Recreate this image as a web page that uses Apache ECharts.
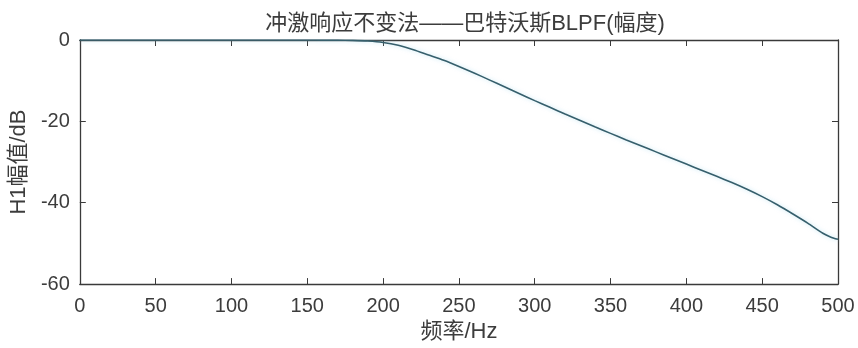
<!DOCTYPE html>
<html>
<head>
<meta charset="utf-8">
<script src="https://cdn.jsdelivr.net/npm/echarts@6/dist/echarts.min.js"></script>
<style>html,body{margin:0;padding:0;background:#fff;}#c{width:858px;height:348px;}</style>
</head>
<body>
<div id="c"></div>
<script>
const freqHz = [0, 50, 100, 150, 160, 170, 180, 190, 200, 210, 220, 230, 240, 250, 260, 270, 280, 290, 300, 310, 320, 330, 340, 350, 360, 370, 380, 390, 400, 410, 420, 430, 440, 450, 460, 470, 480, 490, 495, 500];
const magDb = [0, 0, 0, -0.01, -0.02, -0.04, -0.1, -0.25, -0.6, -1.3, -2.4, -3.7, -5.0, -6.5, -8.1, -9.8, -11.5, -13.2, -14.9, -16.55, -18.2, -19.8, -21.4, -22.95, -24.5, -26.0, -27.5, -29.0, -30.5, -32.0, -33.5, -35.05, -36.7, -38.5, -40.5, -42.7, -45.0, -47.5, -48.4, -49.0];
const xTicks = [0, 50, 100, 150, 200, 250, 300, 350, 400, 450, 500];
const yTicks = [0, -20, -40, -60];
const titleText = '冲激响应不变法——巴特沃斯BLPF(幅度)';
const xName = '频率/Hz';
const yName = 'H1幅值/dB';

const font = '"Liberation Sans", "Noto Sans CJK SC", sans-serif';
const axisColor = '#3a3a3a';
const textColor = '#3c3c3c';
const pts = freqHz.map((f, i) => [f, magDb[i]]);

const chart = echarts.init(document.getElementById('c'), null, {renderer: 'canvas'});
const baseX = {
  type: 'value', min: xTicks[0], max: xTicks[xTicks.length - 1], interval: 50,
  axisLine: {show: true, onZero: false, lineStyle: {color: axisColor, width: 1.3}},
  axisTick: {show: true, inside: true, length: 6, lineStyle: {color: axisColor}},
  splitLine: {show: false}
};
const baseY = {
  type: 'value', min: yTicks[yTicks.length - 1], max: yTicks[0], interval: 20,
  axisLine: {show: true, onZero: false, lineStyle: {color: axisColor, width: 1.3}},
  axisTick: {show: true, inside: true, length: 6, lineStyle: {color: axisColor}},
  splitLine: {show: false}
};
chart.setOption({
  animation: false,
  backgroundColor: '#ffffff',
  title: {
    text: titleText, left: 460, top: 8, textAlign: 'center',
    textStyle: {fontFamily: font, fontSize: 22, fontWeight: 'normal', color: textColor}
  },
  grid: {left: 78, right: 20, top: 40, bottom: 62, containLabel: false},
  xAxis: [
    Object.assign({}, baseX, {
      position: 'bottom', name: xName, nameLocation: 'middle', nameGap: 35,
      nameTextStyle: {fontFamily: font, fontSize: 22, color: textColor},
      axisLabel: {show: true, margin: 12, fontFamily: font, fontSize: 20, color: textColor}
    }),
    Object.assign({}, baseX, {position: 'top', axisLabel: {show: false}})
  ],
  yAxis: [
    Object.assign({}, baseY, {
      position: 'left', name: yName, nameLocation: 'middle', nameGap: 47, nameRotate: 90,
      nameTextStyle: {fontFamily: font, fontSize: 22, color: textColor},
      axisLabel: {show: true, margin: 10, fontFamily: font, fontSize: 20, color: textColor}
    }),
    Object.assign({}, baseY, {position: 'right', axisLabel: {show: false}})
  ],
  series: [{
    type: 'line', data: pts, smooth: 0.25, showSymbol: false, symbol: 'none',
    xAxisIndex: 0, yAxisIndex: 0,
    lineStyle: {color: '#365f6c', width: 1.6, shadowColor: 'rgba(150,210,235,0.6)', shadowBlur: 4}
  }]
});
</script>
</body>
</html>
